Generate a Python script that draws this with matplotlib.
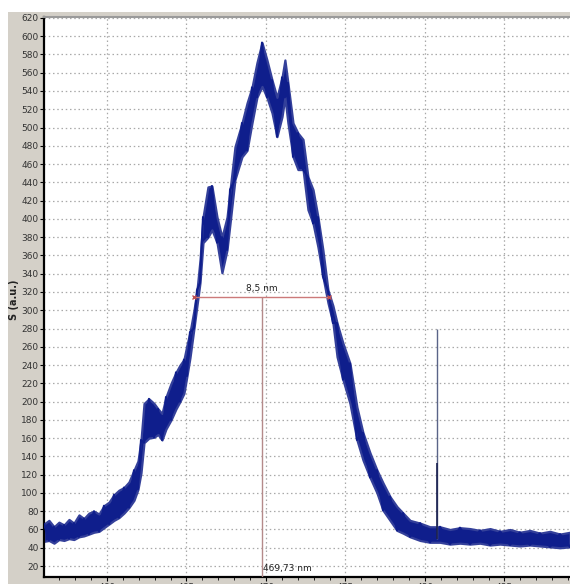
import numpy as np
import matplotlib.pyplot as plt
from matplotlib.patches import Rectangle
from matplotlib.ticker import MultipleLocator

# wavelength (nm) and lower / upper edge of the noisy trace (a.u.)
wl = [456.04, 456.35, 456.67, 456.98, 457.30, 457.61, 457.92, 458.24, 458.55, 458.87,
      459.18, 459.50, 459.81, 460.13, 460.44, 460.75, 461.07, 461.38, 461.70, 461.95,
      462.14, 462.33, 462.64, 462.96, 463.21, 463.46, 463.71, 464.03, 464.34, 464.59,
      464.84, 465.03, 465.22, 465.47, 465.66, 465.85, 466.04, 466.35, 466.60, 466.92,
      467.23, 467.55, 467.74, 468.05, 468.49, 468.81, 469.12, 469.43, 469.75, 470.06,
      470.38, 470.69, 471.01, 471.19, 471.38, 471.70, 472.01, 472.33, 472.64, 472.96,
      473.27, 473.58, 473.90, 474.21, 474.47, 474.84, 475.28, 475.72, 476.10, 476.54,
      476.98, 477.36, 477.80, 478.24, 478.62, 479.06, 479.69, 480.31, 480.94, 481.57,
      482.20, 482.83, 483.46, 484.09, 484.72, 485.35, 485.97, 486.60, 487.23, 487.86,
      488.49, 489.12]
s_low = [47, 48, 45, 49, 48, 50, 49, 52, 53, 55,
         57, 58, 62, 66, 70, 73, 78, 84, 92, 104,
         122, 155, 160, 161, 164, 158, 170, 180, 192, 200,
         209, 228, 248, 280, 305, 330, 374, 380, 388, 374,
         341, 366, 395, 443, 468, 475, 505, 533, 545, 533,
         516, 490, 512, 533, 505, 468, 454, 454, 410, 395,
         369, 337, 308, 286, 249, 224, 198, 158, 136, 117,
         100, 81, 70, 59, 56, 52, 48, 46, 46, 44,
         45, 44, 45, 43, 44, 43, 42, 43, 42, 41,
         40, 41]
s_high = [66, 70, 63, 68, 65, 71, 67, 76, 72, 78,
          80, 77, 86, 90, 98, 103, 106, 112, 125, 135,
          158, 198, 203, 198, 192, 187, 205, 220, 232, 240,
          246, 262, 276, 300, 322, 355, 402, 435, 436, 402,
          380, 402, 432, 479, 505, 527, 544, 571, 593, 574,
          552, 533, 555, 574, 549, 505, 494, 487, 446, 432,
          402, 366, 322, 305, 286, 264, 242, 194, 166, 144,
          125, 111, 96, 85, 78, 70, 67, 63, 63, 60,
          62, 61, 59, 61, 58, 60, 57, 59, 56, 58,
          55, 57]

# narrow spike on the tail
spike_wl = 480.75
spike_top = 280
spike_dark = 133

# FWHM marker
center_wl = 469.73
fwhm = 8.5
half_level = 314.6

navy = "#0f1e8c"
fringe = "#34409a"
red = "#cc7a7a"

fig = plt.figure(figsize=(5.70, 5.84), dpi=100, facecolor="white")
fig.patches.append(Rectangle((8 / 570, 0), 1, 1 - 12 / 584, transform=fig.transFigure,
                             facecolor="#d4d0c8", edgecolor="none", zorder=-5))
ax = fig.add_axes([44 / 570, 7 / 584, 526 / 570, 560 / 584])
ax.set_zorder(2)
ax.set_facecolor("white")

ax.set_xlim(456.04, 489.12)
ax.set_ylim(8, 621)

ax.xaxis.set_major_locator(MultipleLocator(5))
ax.xaxis.set_minor_locator(MultipleLocator(1))
ax.yaxis.set_major_locator(MultipleLocator(20))
ax.grid(True, which="major", color="#a9a9a9", linestyle=(0, (1.2, 2.2)), linewidth=0.9)
ax.set_axisbelow(True)

# noisy trace
x = np.array(wl)
lo = np.array(s_low)
hi = np.array(s_high)
ax.fill_between(x, lo, hi, facecolor=navy, edgecolor=fringe, linewidth=1.6, zorder=2)
zig = np.where(np.arange(len(x)) % 2 == 0, hi, lo)
ax.plot(x, zig, color=navy, linewidth=1.5, zorder=3)

ax.vlines(spike_wl, 50, spike_top, color="#5a6488", linewidth=1.0, zorder=3)
ax.vlines(spike_wl, 50, spike_dark, color="#1a2050", linewidth=1.2, zorder=3)

# FWHM annotation
x1 = center_wl - fwhm / 2
x2 = center_wl + fwhm / 2
ax.plot([x1, x2], [half_level, half_level], color=red, linewidth=1.0, zorder=4)
ax.plot([x1, x2], [half_level, half_level], linestyle="none", marker="x",
        markersize=3, color="#c05050", zorder=4)
ax.vlines(center_wl, 8, half_level, color="#b48a8a", linewidth=1.0, zorder=4)
ax.text(center_wl, half_level + 4, "8,5 nm", ha="center", va="bottom", fontsize=6.5,
        color="#222222", zorder=5)
ax.text(center_wl + 0.1, 12, "469,73 nm", ha="left", va="bottom", fontsize=6.5,
        color="#222222", zorder=5)

ax.spines["right"].set_visible(False)
ax.spines["top"].set_color("#9a9a9a")
ax.spines["top"].set_linewidth(1.5)
ax.spines["left"].set_linewidth(1.6)
ax.spines["bottom"].set_linewidth(1.6)

ax.tick_params(axis="y", labelsize=6.5, labelcolor="#333333", length=3, width=0.8, pad=1)
ax.tick_params(axis="x", which="major", labelsize=6.5, labelcolor="#333333", length=3, pad=1)
ax.tick_params(axis="x", which="minor", length=2)

fig.text(14 / 570, 1 - 300 / 584, "S (a.u.)", rotation=90, ha="center", va="center",
         fontsize=7, fontweight="bold", color="#222222")

fig.savefig("out.png", dpi=100, facecolor=fig.get_facecolor())
